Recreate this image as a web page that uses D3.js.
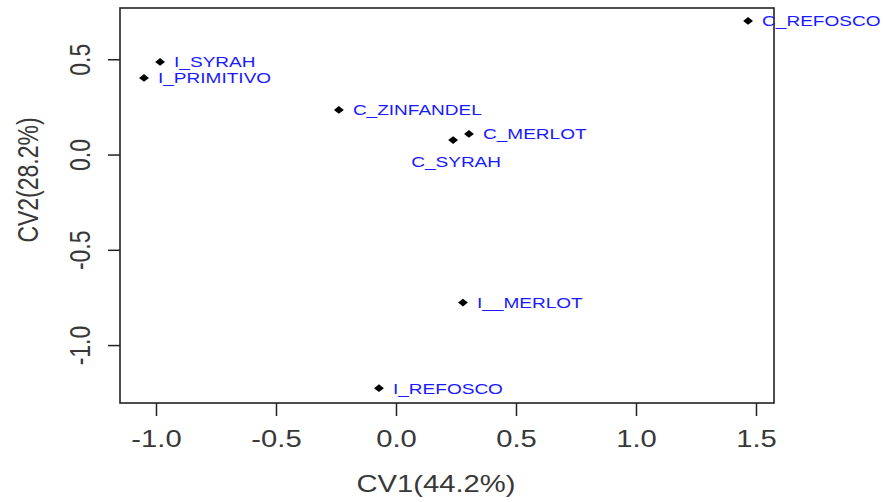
<!DOCTYPE html>
<html>
<head>
<meta charset="utf-8">
<script src="https://cdn.jsdelivr.net/npm/d3@7"></script>
<style>
  html, body { margin: 0; padding: 0; background: #fff; }
  svg { display: block; }
  text { font-family: "Liberation Sans", Arial, Helvetica, sans-serif; }
</style>
</head>
<body>
<svg id="chart" width="885" height="502"></svg>
<script>
// Canonical variate scores per wine group
const wines = ["C_REFOSCO", "I_SYRAH", "I_PRIMITIVO", "C_ZINFANDEL", "C_MERLOT", "C_SYRAH", "I__MERLOT", "I_REFOSCO"];
const cv1 = [1.467, -0.983, -1.050, -0.238, 0.304, 0.238, 0.279, -0.071];
const cv2 = [0.701, 0.486, 0.402, 0.234, 0.108, 0.076, -0.777, -1.226];

const xTicks = [-1.0, -0.5, 0.0, 0.5, 1.0, 1.5];
const yTicks = [-1.0, -0.5, 0.0, 0.5];
const xTitle = "CV1(44.2%)";
const yTitle = "CV2(28.2%)";

// Labels drawn under their point instead of to the right
const labelBelow = new Set(["C_SYRAH"]);

const SX = 1.27; // horizontal stretch of glyphs and markers
const svg = d3.select("#chart");
const plot = { left: 120, right: 774, top: 8, bottom: 403 };

const x = d3.scaleLinear().domain([-1.15, 1.575]).range([plot.left, plot.right]);
const y = d3.scaleLinear().domain([-1.304, 0.769]).range([plot.bottom, plot.top]);
const fmt = d => d.toFixed(1);

svg.append("rect").attr("width", 885).attr("height", 502).attr("fill", "#fff");

// Bottom axis
const gx = svg.append("g")
  .attr("transform", `translate(0,${plot.bottom})`)
  .call(d3.axisBottom(x).tickValues(xTicks).tickFormat(fmt).tickSize(13));
gx.select(".domain").remove();
gx.selectAll(".tick line").attr("stroke", "#222").attr("stroke-width", 1.5);
gx.selectAll(".tick text")
  .attr("y", 0).attr("dy", 0)
  .attr("transform", `translate(0,44) scale(${SX},1)`)
  .attr("fill", "#383838").attr("font-size", 23);

// Left axis, labels parallel to the axis
const gy = svg.append("g")
  .attr("transform", `translate(${plot.left},0)`)
  .call(d3.axisLeft(y).tickValues(yTicks).tickFormat(fmt).tickSize(12));
gy.select(".domain").remove();
gy.selectAll(".tick line").attr("stroke", "#222").attr("stroke-width", 1.5);
gy.selectAll(".tick text")
  .attr("x", 0).attr("y", 0).attr("dy", 0)
  .attr("text-anchor", "middle")
  .attr("transform", `translate(-30,0) scale(${SX},1) rotate(-90)`)
  .attr("fill", "#383838").attr("font-size", 23);

// Plot frame
svg.append("rect")
  .attr("x", plot.left).attr("y", plot.top)
  .attr("width", plot.right - plot.left).attr("height", plot.bottom - plot.top)
  .attr("fill", "none").attr("stroke", "#222").attr("stroke-width", 1.6);

// Axis titles
svg.append("text")
  .attr("transform", `translate(436,492) scale(${SX},1)`)
  .attr("text-anchor", "middle").attr("font-size", 23).attr("fill", "#383838")
  .text(xTitle);
svg.append("text")
  .attr("transform", `translate(38,180) scale(${SX},1) rotate(-90)`)
  .attr("text-anchor", "middle").attr("font-size", 23).attr("fill", "#383838")
  .text(yTitle);

// Points and labels
const data = wines.map((w, i) => ({ name: w, cv1: cv1[i], cv2: cv2[i] }));
const diamond = d3.symbol().type(d3.symbolSquare).size(30);

const pts = svg.append("g").selectAll("g").data(data).join("g")
  .attr("transform", d => `translate(${x(d.cv1)},${y(d.cv2)})`);

pts.append("path")
  .attr("d", diamond)
  .attr("transform", `scale(${SX},1) rotate(45)`)
  .attr("fill", "#000");

pts.append("text")
  .attr("transform", d => labelBelow.has(d.name)
    ? `translate(3,21.5) scale(${SX},1)`
    : `translate(14,0) scale(${SX},1)`)
  .attr("text-anchor", d => labelBelow.has(d.name) ? "middle" : "start")
  .attr("dy", "0.36em")
  .attr("font-size", 15)
  .attr("fill", "#1a1aff")
  .text(d => d.name);
</script>
</body>
</html>
